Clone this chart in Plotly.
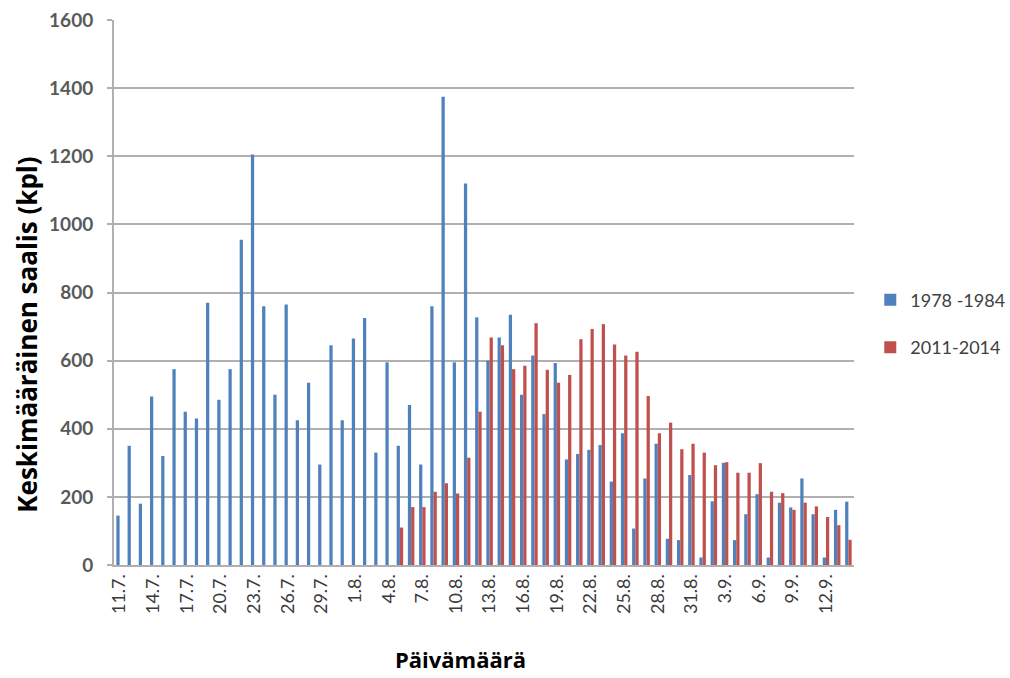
import plotly.graph_objects as go

# Daily categories 11.7. – 14.9.
july = [f"{d}.7." for d in range(11, 32)]
august = [f"{d}.8." for d in range(1, 32)]
september = [f"{d}.9." for d in range(1, 15)]
dates = july + august + september

# Mean daily catch (kpl), 1978-1984
catch_1978_1984 = [
    145, 350, 180, 495, 320, 575, 450, 430, 770, 485, 575, 955, 1205, 760, 500, 765, 425, 535, 295, 645, 425,
    665, 725, 330, 595, 350, 470, 295, 760, 1375, 595, 1120, 727, 600, 668, 735, 500, 615, 443, 593, 310,
    326, 338, 352, 245, 387, 107, 254, 356, 77, 73, 264,
    22, 187, 300, 73, 149, 208, 22, 183, 169, 254, 149, 22, 162, 186,
]

# Mean daily catch (kpl), 2011-2014 (no catches recorded before 5.8.)
catch_2011_2014 = [None] * 25 + [
    110, 170, 170, 215, 240, 210, 315, 450, 668, 645, 575, 585, 710, 573, 535, 558,
    663, 693, 707, 647, 615, 626, 496, 387, 418, 340, 356,
    330, 293, 302, 271, 271, 299, 215, 211, 162, 183, 172, 141, 117, 74,
]

# Every third date is labelled on the x axis
tick_dates = dates[::3]
y_ticks = list(range(0, 1601, 200))

BLUE = "#4F81BD"
RED = "#C0504D"
GRID = "#b0b0b0"

fig = go.Figure()
fig.add_trace(go.Bar(x=dates, y=catch_1978_1984, name="1978 -1984",
                     marker=dict(color=BLUE, line=dict(width=0)), legendgroup="a"))
fig.add_trace(go.Bar(x=dates, y=catch_2011_2014, name="2011-2014",
                     marker=dict(color=RED, line=dict(width=0)), legendgroup="b"))

fig.update_layout(
    width=1010, height=678,
    margin=dict(l=114, r=156, t=20, b=113, autoexpand=False),
    paper_bgcolor="white", plot_bgcolor="white",
    barmode="group", bargap=0.42, bargroupgap=0.0,
    font=dict(family="Lato, 'Open Sans', sans-serif", color="#404040"),
    showlegend=True,
    legend=dict(x=1.022, y=0.52, xanchor="left", yanchor="top",
                font=dict(size=18, color="#404040"),
                tracegroupgap=21, itemwidth=30, bgcolor="rgba(0,0,0,0)"),
    xaxis=dict(
        type="category", categoryorder="array", categoryarray=dates,
        tickmode="array", tickvals=tick_dates, ticktext=tick_dates,
        tickangle=-90, tickfont=dict(size=18, color="#3a3a3a"),
        showgrid=False, showline=True, linecolor=GRID, linewidth=2,
        ticks="", ticklen=0, zeroline=False, automargin=False,
    ),
    yaxis=dict(
        range=[0, 1600], tickmode="array", tickvals=y_ticks,
        tickfont=dict(size=19, color="#595959", family="Lato, sans-serif", weight="bold"),
        showgrid=True, gridcolor=GRID, gridwidth=2,
        showline=True, linecolor=GRID, linewidth=2,
        ticks="outside", ticklen=5, tickcolor=GRID, tickwidth=1.5,
        ticklabelstandoff=10, zeroline=False, automargin=False,
    ),
    annotations=[
        dict(text="<b>Keskimääräinen saalis (kpl)</b>", xref="paper", yref="paper",
             x=-0.118, y=0.422, xanchor="center", yanchor="middle",
             textangle=-90, showarrow=False,
             font=dict(size=26, color="black", family="'Open Sans', sans-serif")),
        dict(text="<b>Päivämäärä</b>", xref="paper", yref="paper",
             x=0.468, y=-0.173, xanchor="center", yanchor="middle",
             showarrow=False,
             font=dict(size=22, color="black", family="'Open Sans', sans-serif")),
    ],
)

fig.write_html("out.html")
